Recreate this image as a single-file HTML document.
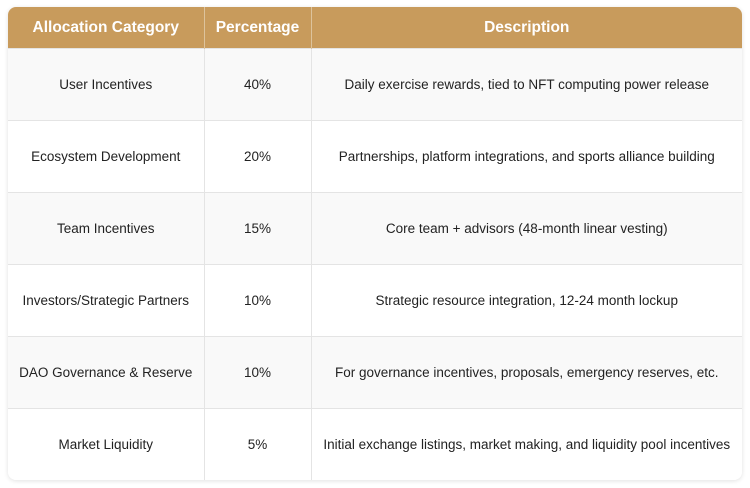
<!DOCTYPE html>
<html><head><style>
html,body{margin:0;padding:0;background:#fff;width:750px;height:488px;overflow:hidden}
.t{position:absolute;left:8px;top:7px;width:734px;border-collapse:collapse;border-radius:8px;overflow:hidden;box-shadow:0 1px 5px rgba(0,0,0,0.12);font-family:"Liberation Sans",Arial,sans-serif;font-size:13.5px;color:#222;table-layout:fixed}
th{background:#c89b5c;color:#fff;font-weight:bold;font-size:15.5px;height:41px;padding:0;border-right:1px solid #ddc39c}
th:last-child{border-right:none}
td{height:71px;padding:0;text-align:center;border-right:1px solid #e4e4e4;border-top:1px solid #e4e4e4}
td:last-child{border-right:none}
tr:nth-child(odd) td{background:#f9f9f9}
tr:nth-child(even) td{background:#fff}
</style></head><body>
<table class="t">
<colgroup><col style="width:196px"><col style="width:107px"><col></colgroup>
<thead><tr><th>Allocation Category</th><th>Percentage</th><th>Description</th></tr></thead>
<tbody>
<tr><td>User Incentives</td><td>40%</td><td>Daily exercise rewards, tied to NFT computing power release</td></tr>
<tr><td>Ecosystem Development</td><td>20%</td><td>Partnerships, platform integrations, and sports alliance building</td></tr>
<tr><td>Team Incentives</td><td>15%</td><td>Core team + advisors (48-month linear vesting)</td></tr>
<tr><td>Investors/Strategic Partners</td><td>10%</td><td>Strategic resource integration, 12-24 month lockup</td></tr>
<tr><td>DAO Governance &amp; Reserve</td><td>10%</td><td>For governance incentives, proposals, emergency reserves, etc.</td></tr>
<tr><td>Market Liquidity</td><td>5%</td><td>Initial exchange listings, market making, and liquidity pool incentives</td></tr>
</tbody></table>
</body></html>
